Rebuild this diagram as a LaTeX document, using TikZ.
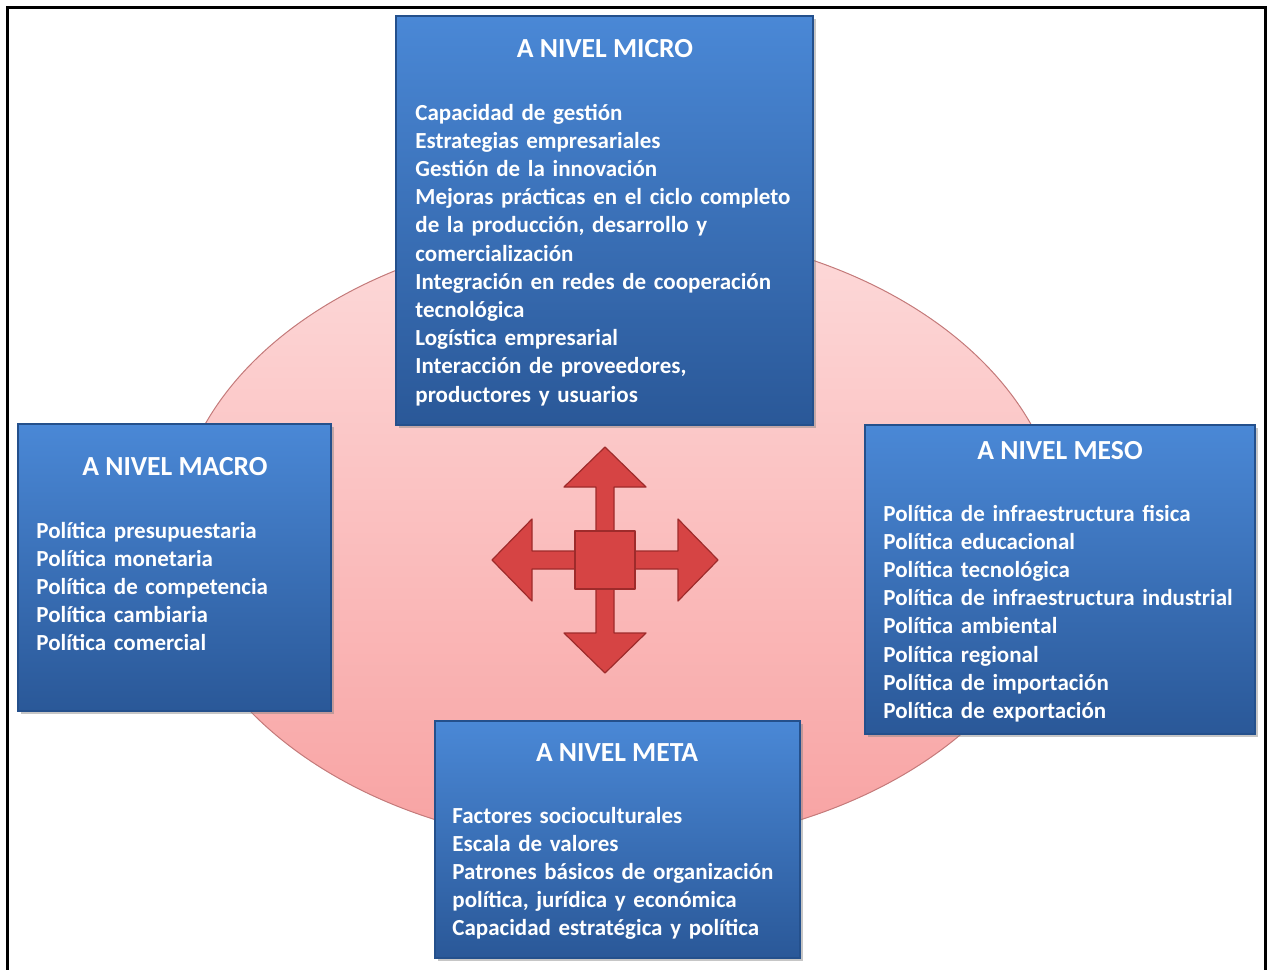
\documentclass[tikz,border=0pt]{standalone}
\usepackage{fontspec}
\setmainfont{Carlito}
\usetikzlibrary{shadows}

\definecolor{boxtop}{HTML}{4A88D6}
\definecolor{boxbottom}{HTML}{2A5898}
\definecolor{boxline}{HTML}{24508C}
\definecolor{ovaltop}{HTML}{FDDADA}
\definecolor{ovalbottom}{HTML}{F8A2A2}
\definecolor{ovalline}{HTML}{C47A7A}
\definecolor{arrowred}{HTML}{D64444}
\definecolor{arrowline}{HTML}{9E2B2B}

\tikzset{
  levelbox/.style={rectangle, draw=boxline, line width=0.6pt, top color=boxtop, bottom color=boxbottom,
    drop shadow={opacity=0.45, shadow xshift=1.5pt, shadow yshift=-1.5pt}},
  leveltitle/.style={inner sep=0, text=white, font=\bfseries\fontsize{13.8}{15}\selectfont, anchor=base},
  levellist/.style={inner sep=0, text=white, text width=200pt, align=left, anchor=base west,
    font=\bfseries\fontsize{11.5}{14.1}\selectfont},
  armpart/.style={fill=arrowred, draw=arrowline, line width=0.6pt, line join=round}
}

\begin{document}
\begin{tikzpicture}[x=0.5pt, y=-0.5pt]
\useasboundingbox (0,0) rectangle (1268,969);
\draw[line width=1.5pt] (7,975) -- (7,7) -- (1265.5,7) -- (1265.5,975);

% oval behind the four levels
\shade[top color=ovaltop, bottom color=ovalbottom, draw=ovalline, line width=0.5pt]
  (618,538) ellipse [x radius=444, y radius=309];

\node[levelbox, minimum width=208.5pt, minimum height=204.5pt] (micro) at (604.5,220.5) {};
\node[levelbox, minimum width=156.5pt, minimum height=143.5pt] (macro) at (174.5,567.5) {};
\node[levelbox, minimum width=195pt, minimum height=154.5pt] (meso) at (1060,579.5) {};
\node[levelbox, minimum width=182.5pt, minimum height=118.5pt] (meta) at (617.5,839.5) {};

\node[leveltitle] (microtitle) at (605,57) {A NIVEL MICRO};
\node[leveltitle] (macrotitle) at (175,475) {A NIVEL MACRO};
\node[leveltitle] (mesotitle) at (1060,459) {A NIVEL MESO};
\node[leveltitle] (metatitle) at (617,761) {A NIVEL META};

\node[levellist] (microlist) at (415,120) {Capacidad de gestión\\ Estrategias empresariales\\
  Gestión de la innovación\\ Mejoras prácticas en el ciclo completo\\ de la producción, desarrollo y\\
  comercialización\\ Integración en redes de cooperación\\ tecnológica\\ Logística empresarial\\
  Interacción de proveedores,\\ productores y usuarios};
\node[levellist] (macrolist) at (36,538) {Política presupuestaria\\ Política monetaria\\
  Política de competencia\\ Política cambiaria\\ Política comercial};
\node[levellist] (mesolist) at (883,521) {Política de infraestructura fisica\\ Política educacional\\
  Política tecnológica\\ Política de infraestructura industrial\\ Política ambiental\\
  Política regional\\ Política de importación\\ Política de exportación};
\node[levellist] (metalist) at (452,823) {Factores socioculturales\\ Escala de valores\\
  Patrones básicos de organización\\ política, jurídica y económica\\ Capacidad estratégica y política};

% four-way arrow in the middle
\coordinate (hub) at (605,560);
\foreach \a in {0,90,180,270}
  \draw[armpart, shift={(hub)}, rotate=\a]
    (28,-9) -- (73,-9) -- (73,-41) -- (113,0) -- (73,41) -- (73,9) -- (28,9) -- cycle;
\draw[armpart] ([shift={(-30,-29)}]hub) rectangle ([shift={(30,29)}]hub);

\end{tikzpicture}
\end{document}
